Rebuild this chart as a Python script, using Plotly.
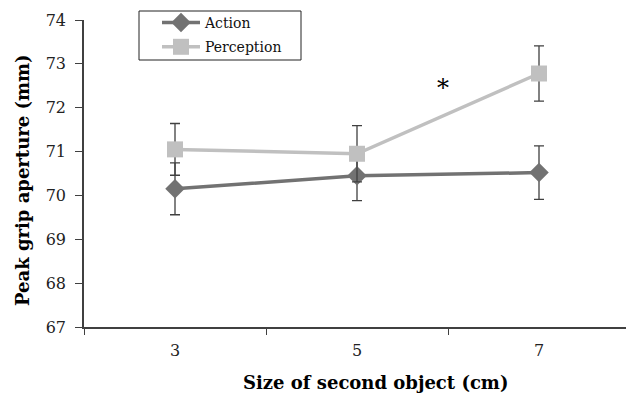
import plotly.graph_objects as go

sizes = ["3", "5", "7"]
action = [70.15, 70.45, 70.52]
action_err = [0.59, 0.57, 0.61]
perception = [71.05, 70.95, 72.78]
perception_err = [0.59, 0.64, 0.63]
y_ticks = [67, 68, 69, 70, 71, 72, 73, 74]

SERIF = "DejaVu Serif"
AXC = "#404040"

# plot area in page pixels
PL, PR, PT, PB = 84, 626, 20, 327


def px(x):
    return (x - PL) / (PR - PL)


def py(y):
    return (PB - y) / (PB - PT)


fig = go.Figure()
fig.add_trace(go.Scatter(
    x=sizes, y=action, name="Action", mode="lines+markers", legendgroup="a",
    line=dict(color="#727272", width=3.5),
    marker=dict(symbol="diamond", size=15, color="#727272"),
    error_y=dict(type="data", array=action_err, color=AXC, thickness=1.3, width=5),
))
fig.add_trace(go.Scatter(
    x=sizes, y=perception, name="Perception", mode="lines+markers", legendgroup="p",
    line=dict(color="#c0c0c0", width=3.5),
    marker=dict(symbol="square", size=16, color="#c0c0c0"),
    error_y=dict(type="data", array=perception_err, color=AXC, thickness=1.3, width=5),
))

fig.add_annotation(x=1.47, y=72.45, xref="x", yref="y", text="*", showarrow=False,
                   font=dict(family=SERIF, size=24, color="black"))
fig.add_annotation(x=px(375), y=py(382), xref="paper", yref="paper",
                   xanchor="center", yanchor="middle",
                   text="<b>Size of second object (cm)</b>", showarrow=False,
                   font=dict(family=SERIF, size=18, color="black"))
fig.add_annotation(x=px(22), y=py(180), xref="paper", yref="paper", textangle=-90,
                   xanchor="center", yanchor="middle",
                   text="<b>Peak grip aperture (mm)</b>", showarrow=False,
                   font=dict(family=SERIF, size=18, color="black"))
fig.add_shape(type="rect", xref="paper", yref="paper",
              x0=px(139), x1=px(301), y0=py(60), y1=py(11),
              line=dict(color="#222", width=1), fillcolor="rgba(0,0,0,0)")

fig.update_layout(
    width=626, height=394,
    margin=dict(l=PL, r=0, t=PT, b=394 - PB, autoexpand=False),
    paper_bgcolor="white", plot_bgcolor="white",
    font=dict(family=SERIF, size=16, color="#222"),
    showlegend=True,
    legend=dict(x=px(157), y=py(7), xanchor="left", yanchor="top",
                borderwidth=0, bgcolor="rgba(0,0,0,0)",
                font=dict(family=SERIF, size=14, color="#111"),
                tracegroupgap=3, itemwidth=38),
    xaxis=dict(type="category", range=[-0.5, 2.478], showline=True, linecolor=AXC,
               linewidth=1.5, ticks="outside", tickson="boundaries", ticklen=6,
               tickcolor=AXC, showgrid=False, zeroline=False, automargin=False,
               ticklabelstandoff=8,
               tickfont=dict(family=SERIF, size=16, color="#222")),
    yaxis=dict(range=[67, 74], tickvals=y_ticks, showline=True, linecolor=AXC,
               linewidth=1.5, ticks="outside", ticklen=7, tickcolor=AXC,
               showgrid=False, zeroline=False, automargin=False,
               ticklabelstandoff=6,
               tickfont=dict(family=SERIF, size=16, color="#222")),
)
fig.write_html("out.html", config={"displayModeBar": False},
               post_script="document.body.style.margin='0';document.body.style.overflow='hidden';")
